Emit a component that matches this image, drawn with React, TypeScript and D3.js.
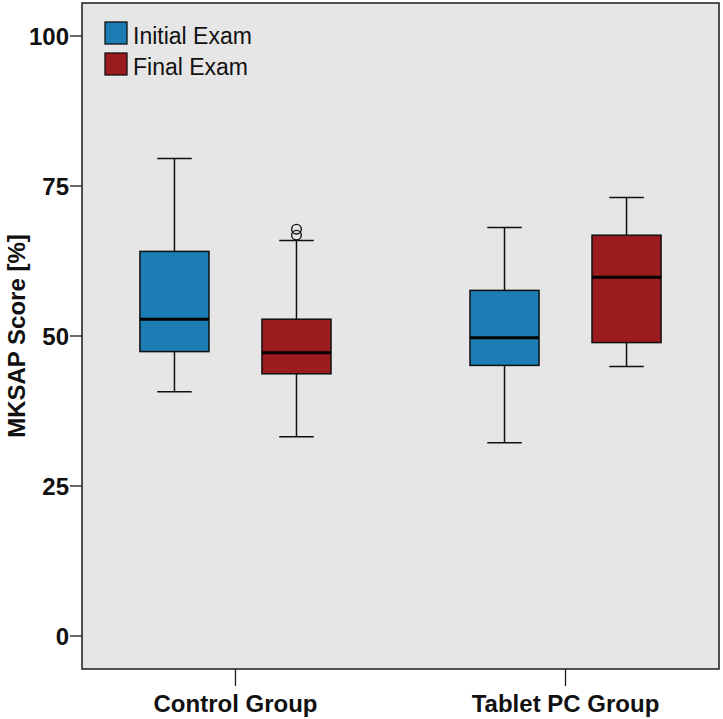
import React from "react";
import * as d3 from "d3";

const groups = ["Control Group", "Tablet PC Group"];
const seriesNames = ["Initial Exam", "Final Exam"];
const seriesColors = ["#1b7db4", "#9b1b1e"];
// per series, per group: [lowerWhisker, q1, median, q3, upperWhisker]
const initialStats = [
  [40.7, 47.4, 52.8, 64.1, 79.6],
  [32.2, 45.1, 49.7, 57.6, 68.1],
];
const finalStats = [
  [33.2, 43.7, 47.2, 52.8, 65.9],
  [44.9, 48.9, 59.8, 66.8, 73.1],
];
const initialOutliers: number[][] = [[], []];
const finalOutliers: number[][] = [[67.8, 66.8], []];
const yTicks = [0, 25, 50, 75, 100];

const W = 723;
const H = 719;
const left = 82;
const right = 719;
const top = 3;
const bottom = 669;

export default function App() {
  const y = d3.scaleLinear().domain([-5.5, 105.5]).range([bottom, top]);
  const x = d3.scaleBand().domain(groups).range([left, right]).paddingInner(0.2).paddingOuter(0.065);
  const xs = d3.scaleBand().domain(seriesNames).range([0, x.bandwidth()]).paddingInner(0.434).paddingOuter(0.299);
  const boxW = xs.bandwidth();
  const stats = [initialStats, finalStats];
  const outliers = [initialOutliers, finalOutliers];
  const font = "'Liberation Sans', Arial, sans-serif";

  return (
    <svg width={W} height={H} style={{ position: "absolute", left: 0, top: 0 }}>
      <rect x={0} y={0} width={W} height={H} fill="#ffffff" />
      <rect x={left} y={top} width={right - left} height={bottom - top} fill="#e6e6e6" stroke="#1a1a1a" strokeWidth={1.5} />
      {yTicks.map((t) => (
        <g key={t}>
          <line x1={left - 12} x2={left} y1={y(t)} y2={y(t)} stroke="#1a1a1a" strokeWidth={1.3} />
          <text x={left - 13} y={y(t)} dy="0.36em" textAnchor="end" fontFamily={font} fontWeight="bold" fontSize={24} fill="#111">
            {t}
          </text>
        </g>
      ))}
      {groups.map((g) => {
        const cx = (x(g) as number) + x.bandwidth() / 2;
        return (
          <g key={g}>
            <line x1={cx} x2={cx} y1={bottom} y2={bottom + 17} stroke="#1a1a1a" strokeWidth={1.3} />
            <text x={cx} y={712} textAnchor="middle" fontFamily={font} fontWeight="bold" fontSize={24} fill="#111">
              {g}
            </text>
          </g>
        );
      })}
      <text
        transform={`translate(25,${(top + bottom) / 2}) rotate(-90)`}
        textAnchor="middle"
        fontFamily={font}
        fontWeight="bold"
        fontSize={24}
        fill="#111"
      >
        MKSAP Score [%]
      </text>
      {seriesNames.map((s, si) =>
        groups.map((g, gi) => {
          const [lo, q1, med, q3, hi] = stats[si][gi];
          const cx = (x(g) as number) + (xs(s) as number) + xs.bandwidth() / 2;
          const cap = boxW / 2;
          return (
            <g key={s + g}>
              <line x1={cx} x2={cx} y1={y(hi)} y2={y(q3)} stroke="#111" strokeWidth={1.5} />
              <line x1={cx} x2={cx} y1={y(q1)} y2={y(lo)} stroke="#111" strokeWidth={1.5} />
              <line x1={cx - cap / 2} x2={cx + cap / 2} y1={y(hi)} y2={y(hi)} stroke="#111" strokeWidth={1.5} />
              <line x1={cx - cap / 2} x2={cx + cap / 2} y1={y(lo)} y2={y(lo)} stroke="#111" strokeWidth={1.5} />
              <rect x={cx - boxW / 2} y={y(q3)} width={boxW} height={y(q1) - y(q3)} fill={seriesColors[si]} stroke="#111" strokeWidth={1.5} />
              <line x1={cx - boxW / 2} x2={cx + boxW / 2} y1={y(med)} y2={y(med)} stroke="#000" strokeWidth={3} />
              {outliers[si][gi].map((o, oi) => (
                <circle key={oi} cx={cx} cy={y(o)} r={4.8} fill="none" stroke="#111" strokeWidth={1.4} />
              ))}
            </g>
          );
        })
      )}
      {seriesNames.map((s, si) => (
        <g key={s} transform={`translate(105,${22 + si * 31})`}>
          <rect x={0} y={0} width={22} height={22} fill={seriesColors[si]} stroke="#111" strokeWidth={1.3} />
          <text x={28} y={22} fontFamily={font} fontSize={23} fill="#111">
            {s}
          </text>
        </g>
      ))}
    </svg>
  );
}
